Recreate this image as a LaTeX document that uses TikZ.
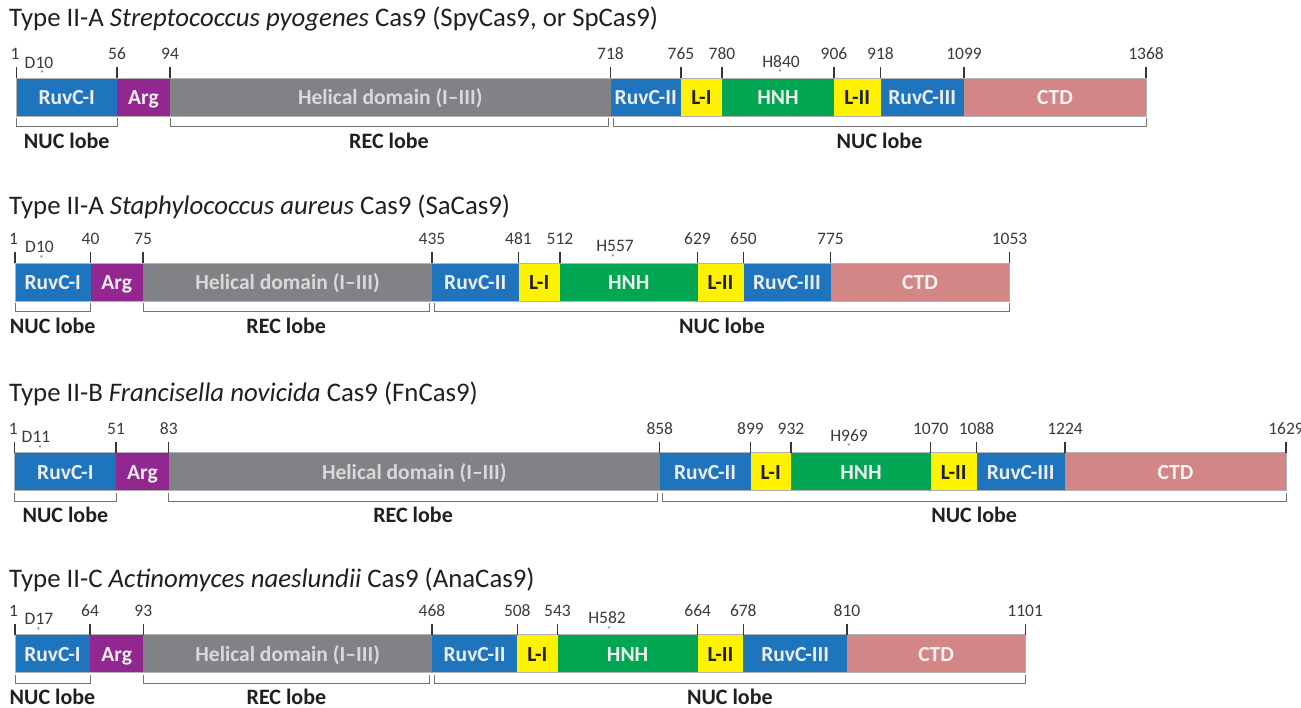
\documentclass[tikz,border=0pt]{standalone}
\usepackage{fontspec}
\setmainfont{Carlito}
\definecolor{ruvc}{HTML}{1E75BE}
\definecolor{argc}{HTML}{92278F}
\definecolor{helc}{HTML}{808285}
\definecolor{linkc}{HTML}{FFF200}
\definecolor{hnhc}{HTML}{00A651}
\definecolor{ctdc}{HTML}{D38686}
\definecolor{inkc}{HTML}{231F20}
\definecolor{numc}{HTML}{3C3A3A}
\tikzset{
  num/.style={font=\fontsize{17.5}{17.5}\selectfont, text=numc, inner sep=0pt, anchor=base},
  dlab/.style={font=\fontsize{21.5}{22}\selectfont\bfseries, text=white!93!black, inner sep=0pt, anchor=base},
  hlab/.style={dlab, text=white!85!black},
  ylab/.style={dlab, text=inkc},
  clab/.style={dlab, text=white!90!ctdc},
  lobe/.style={font=\fontsize{22}{22}\selectfont\bfseries, text=inkc, inner sep=0pt, anchor=base},
  ttl/.style={font=\fontsize{26.8}{27}\selectfont, text=inkc, inner sep=0pt, anchor=base west},
  tickl/.style={line width=1.2pt, draw=inkc!90},
  brk/.style={line width=1pt, draw=black!55},
  starl/.style={font=\fontsize{10}{10}\selectfont, text=black!55, inner sep=0pt, anchor=north},
  barol/.style={draw=black!30, line width=0.5pt},
}
% segment: name, x1, x2, top, fill, label style, text
\newcommand\Seg[7]{%
  \fill[#5] (#2,#4) rectangle (#3,#4+38);
  \node[#6] (#1) at ({(#2+#3)/2},#4+26.5) {#7};}
% tick: name, x, top, number
\newcommand\Tk[4]{%
  \draw[tickl] (#2,#3-11) -- (#2,#3);
  \node[num] (#1) at (#2,#3-18.5) {#4};}
% bracket: name, x1, x2, bottom, label
\newcommand\Brk[5]{%
  \draw[brk] (#2,#4+2) -- (#2,#4+10.5) -- (#3,#4+10.5) -- (#3,#4+2);
  \node[lobe] (#1) at ({(#2+#3)/2},#4+32.3) {#5};}
% residue: name, x of label, x of star, top, text
\newcommand\Res[5]{%
  \node[num] (#1) at (#2,#4-10) {#5};
  \node[starl] (#1s) at (#3,#4-7.8) {*};}
\begin{document}
\begin{tikzpicture}[x=1pt,y=-1pt]
\useasboundingbox (0,0) rectangle (1301,708);
\fill[white] (0,0) rectangle (1301,708);

% ---------- Row 1: SpyCas9 ----------
\node[ttl] (t1) at (9,27) {Type II-A \textit{Streptococcus pyogenes} Cas9 (SpyCas9, or SpCas9)};
\Seg{a1}{16.5}{117}{78.5}{ruvc}{dlab}{RuvC-I}
\Seg{a2}{117}{170}{78.5}{argc}{dlab}{Arg}
\Seg{a3}{170}{610.5}{78.5}{helc}{hlab}{Helical domain (I–III)}
\Seg{a4}{610.5}{681}{78.5}{ruvc}{dlab}{RuvC-II}
\Seg{a5}{681}{722}{78.5}{linkc}{ylab}{L-I}
\Seg{a6}{722}{834}{78.5}{hnhc}{dlab}{HNH}
\Seg{a7}{834}{880.5}{78.5}{linkc}{ylab}{L-II}
\Seg{a8}{880.5}{964}{78.5}{ruvc}{dlab}{RuvC-III}
\Seg{a9}{964}{1146}{78.5}{ctdc}{clab}{CTD}
\draw[barol] (16.5,78.5) rectangle (1146,116.5);
\draw[tickl] (16.5,67.5) -- (16.5,78.5);
\node[num] (an0) at (15,60) {1};
\Tk{an1}{117}{78.5}{56}
\Tk{an2}{170}{78.5}{94}
\Tk{an3}{610.5}{78.5}{718}
\Tk{an4}{681}{78.5}{765}
\Tk{an5}{722}{78.5}{780}
\Tk{an6}{834}{78.5}{906}
\Tk{an7}{880.5}{78.5}{918}
\Tk{an8}{964}{78.5}{1099}
\Tk{an9}{1146}{78.5}{1368}
\Res{ad}{39}{42}{78.5}{D10}
\Res{ah}{781}{780}{77.5}{H840}
\Brk{al1}{16.5}{117}{116.5}{NUC lobe}
\Brk{al2}{170}{608}{116.5}{REC lobe}
\Brk{al3}{613}{1146}{116.5}{NUC lobe}

% ---------- Row 2: SaCas9 ----------
\node[ttl] (t2) at (9,215) {Type II-A \textit{Staphylococcus aureus} Cas9 (SaCas9)};
\Seg{b1}{15}{90.5}{263}{ruvc}{dlab}{RuvC-I}
\Seg{b2}{90.5}{143}{263}{argc}{dlab}{Arg}
\Seg{b3}{143}{432}{263}{helc}{hlab}{Helical domain (I–III)}
\Seg{b4}{432}{518.5}{263}{ruvc}{dlab}{RuvC-II}
\Seg{b5}{518.5}{560}{263}{linkc}{ylab}{L-I}
\Seg{b6}{560}{697.5}{263}{hnhc}{dlab}{HNH}
\Seg{b7}{697.5}{743.5}{263}{linkc}{ylab}{L-II}
\Seg{b8}{743.5}{830.5}{263}{ruvc}{dlab}{RuvC-III}
\Seg{b9}{830.5}{1009.5}{263}{ctdc}{clab}{CTD}
\draw[barol] (15,263) rectangle (1009.5,301);
\draw[tickl] (15,252) -- (15,263);
\node[num] (bn0) at (13.5,244.5) {1};
\Tk{bn1}{90.5}{263}{40}
\Tk{bn2}{143}{263}{75}
\Tk{bn3}{432}{263}{435}
\Tk{bn4}{518.5}{263}{481}
\Tk{bn5}{560}{263}{512}
\Tk{bn6}{697.5}{263}{629}
\Tk{bn7}{743.5}{263}{650}
\Tk{bn8}{830.5}{263}{775}
\Tk{bn9}{1009.5}{263}{1053}
\Res{bd}{39.5}{41.5}{263}{D10}
\Res{bh}{615}{613}{262}{H557}
\Brk{bl1}{15}{90.5}{301}{NUC lobe}
\Brk{bl2}{143}{429.5}{301}{REC lobe}
\Brk{bl3}{434.5}{1009.5}{301}{NUC lobe}

% ---------- Row 3: FnCas9 ----------
\node[ttl] (t3) at (9,402) {Type II-B \textit{Francisella novicida} Cas9 (FnCas9)};
\Seg{c1}{14.7}{116}{452.5}{ruvc}{dlab}{RuvC-I}
\Seg{c2}{116}{168.8}{452.5}{argc}{dlab}{Arg}
\Seg{c3}{168.8}{659.8}{452.5}{helc}{hlab}{Helical domain (I–III)}
\Seg{c4}{659.8}{750.5}{452.5}{ruvc}{dlab}{RuvC-II}
\Seg{c5}{750.5}{791}{452.5}{linkc}{ylab}{L-I}
\Seg{c6}{791}{930.8}{452.5}{hnhc}{dlab}{HNH}
\Seg{c7}{930.8}{976.5}{452.5}{linkc}{ylab}{L-II}
\Seg{c8}{976.5}{1065}{452.5}{ruvc}{dlab}{RuvC-III}
\Seg{c9}{1065}{1286}{452.5}{ctdc}{clab}{CTD}
\draw[barol] (14.7,452.5) rectangle (1286,490.5);
\draw[tickl] (14.7,441.5) -- (14.7,452.5);
\node[num] (cn0) at (13.2,434) {1};
\Tk{cn1}{116}{452.5}{51}
\Tk{cn2}{168.8}{452.5}{83}
\Tk{cn3}{659.8}{452.5}{858}
\Tk{cn4}{750.5}{452.5}{899}
\Tk{cn5}{791}{452.5}{932}
\Tk{cn6}{930.8}{452.5}{1070}
\Tk{cn7}{976.5}{452.5}{1088}
\Tk{cn8}{1065}{452.5}{1224}
\Tk{cn9}{1286}{452.5}{1629}
\Res{cd}{36}{40}{452.5}{D11}
\Res{ch}{849}{849}{451.5}{H969}
\Brk{cl1}{14.7}{116}{490.5}{NUC lobe}
\Brk{cl2}{168.8}{657.3}{490.5}{REC lobe}
\Brk{cl3}{662.3}{1286}{490.5}{NUC lobe}

% ---------- Row 4: AnaCas9 ----------
\node[ttl] (t4) at (9,587) {Type II-C \textit{Actinomyces naeslundii} Cas9 (AnaCas9)};
\Seg{d1}{15}{90}{634.5}{ruvc}{dlab}{RuvC-I}
\Seg{d2}{90}{143.3}{634.5}{argc}{dlab}{Arg}
\Seg{d3}{143.3}{432}{634.5}{helc}{hlab}{Helical domain (I–III)}
\Seg{d4}{432}{517.3}{634.5}{ruvc}{dlab}{RuvC-II}
\Seg{d5}{517.3}{557.5}{634.5}{linkc}{ylab}{L-I}
\Seg{d6}{557.5}{697.7}{634.5}{hnhc}{dlab}{HNH}
\Seg{d7}{697.7}{743.3}{634.5}{linkc}{ylab}{L-II}
\Seg{d8}{743.3}{847}{634.5}{ruvc}{dlab}{RuvC-III}
\Seg{d9}{847}{1025.2}{634.5}{ctdc}{clab}{CTD}
\draw[barol] (15,634.5) rectangle (1025.2,672.5);
\draw[tickl] (15,623.5) -- (15,634.5);
\node[num] (dn0) at (13.5,616) {1};
\Tk{dn1}{90}{634.5}{64}
\Tk{dn2}{143.3}{634.5}{93}
\Tk{dn3}{432}{634.5}{468}
\Tk{dn4}{517.3}{634.5}{508}
\Tk{dn5}{557.5}{634.5}{543}
\Tk{dn6}{697.7}{634.5}{664}
\Tk{dn7}{743.3}{634.5}{678}
\Tk{dn8}{847}{634.5}{810}
\Tk{dn9}{1025.2}{634.5}{1101}
\Res{dd}{39}{38.3}{634.5}{D17}
\Res{dh}{607}{609}{633.5}{H582}
\Brk{dl1}{15}{90}{672.5}{NUC lobe}
\Brk{dl2}{143.3}{429.5}{672.5}{REC lobe}
\Brk{dl3}{434.5}{1025.2}{672.5}{NUC lobe}
\end{tikzpicture}
\end{document}
